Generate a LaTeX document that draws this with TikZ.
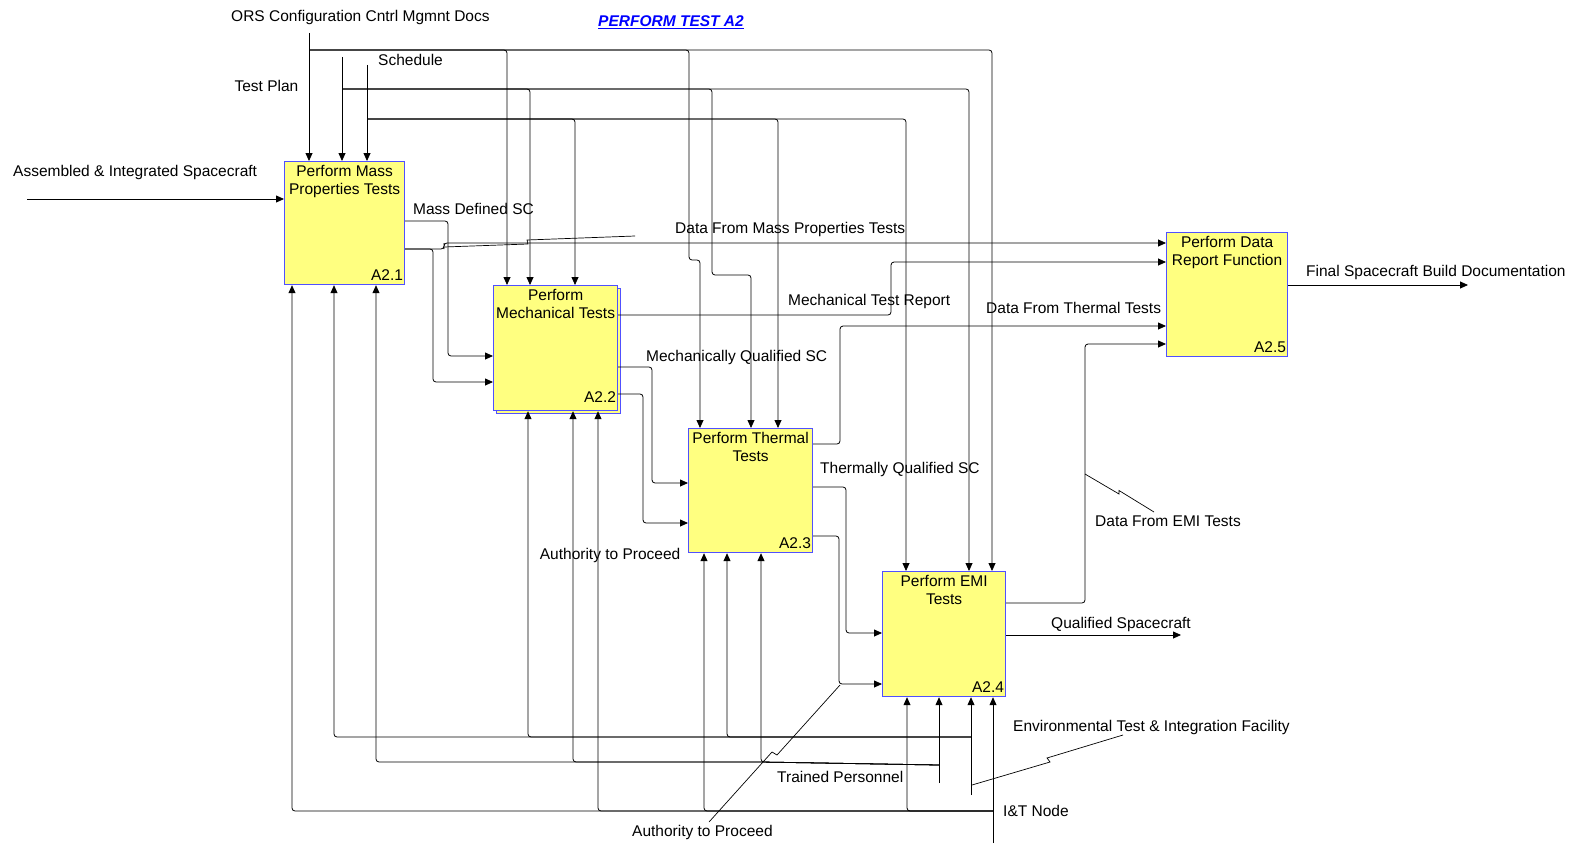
\documentclass[tikz,border=0pt]{standalone}
\usepackage{fontspec}
\setmainfont{Liberation Sans}
\usetikzlibrary{arrows.meta, positioning}
\definecolor{actfill}{RGB}{255,255,128}
\definecolor{actline}{RGB}{80,80,255}
\definecolor{ttlblue}{RGB}{0,0,255}

\begin{document}
\begin{tikzpicture}[x=1pt, y=-1pt, font=\fontsize{15.5}{17.8}\selectfont,
    act node/.style={draw=actline, fill=actfill, line width=1.2pt, anchor=north west, inner sep=0pt},
    act title/.style={anchor=north, align=center, inner sep=4pt},
    act num/.style={anchor=south east, inner xsep=2pt, inner ysep=4.3pt},
    txt node/.style={inner sep=0pt},
    arr/.style={draw=black, line width=0.8pt, rounded corners=3pt, -{Triangle[length=8pt,width=7pt]}},
    lead/.style={draw=black, line width=0.7pt}]
      \useasboundingbox (0,0) rectangle (1581,843);

      % activities
      \node[act node, minimum width=120pt, minimum height=123pt,
        label={[act title]north:{Perform Mass\\Properties Tests}},
        label={[act num]south east:A2.1}] (a21) at (284,161) {};
      \node[act node, minimum width=124pt, minimum height=125pt] (a22s) at (496,288) {};
      \node[act node, minimum width=124pt, minimum height=125pt,
        label={[act title]north:{Perform\\Mechanical Tests}},
        label={[act num, yshift=4pt]south east:A2.2}] (a22) at (493,285) {};
      \node[act node, minimum width=124pt, minimum height=124pt,
        label={[act title]north:{Perform Thermal\\Tests}},
        label={[act num]south east:A2.3}] (a23) at (688,428) {};
      \node[act node, minimum width=123pt, minimum height=125pt,
        label={[act title]north:{Perform EMI\\Tests}},
        label={[act num]south east:A2.4}] (a24) at (882,571) {};
      \node[act node, minimum width=121pt, minimum height=124pt,
        label={[act title]north:{Perform Data\\Report Function}},
        label={[act num]south east:A2.5}] (a25) at (1166,232) {};

      % texts
      \node[txt node, anchor=base, text=ttlblue] (ttl) at (671,27) {\bfseries\itshape\underline{PERFORM TEST A2}};
      \node[txt node, anchor=base west] (orsl) at (231,21.3) {ORS Configuration Cntrl Mgmnt Docs};
      \node[txt node, anchor=base west] (schl) at (378,66) {Schedule};
      \node[txt node, anchor=base east] (tpll) at (298.5,92) {Test Plan};
      \node[txt node, anchor=base west] (aisl) at (13,176) {Assembled \& Integrated Spacecraft};
      \node[txt node, anchor=base west] (mdsl) at (413,214) {Mass Defined SC};
      \node[txt node, anchor=base west] (dmpl) at (675,233) {Data From Mass Properties Tests};
      \node[txt node, anchor=base west] (mtrl) at (788,305) {Mechanical Test Report};
      \node[txt node, anchor=base west] (dttl) at (986,313) {Data From Thermal Tests};
      \node[txt node, anchor=base west] (mqsl) at (646,361) {Mechanically Qualified SC};
      \node[txt node, anchor=base west] (tqsl) at (820,473) {Thermally Qualified SC};
      \node[txt node, anchor=base west] (fsbl) at (1306,276) {Final Spacecraft Build Documentation};
      \node[txt node, anchor=base west] (deml) at (1095,526) {Data From EMI Tests};
      \node[txt node, anchor=base west] (qscl) at (1051,628) {Qualified Spacecraft};
      \node[txt node, anchor=base east] (atpa) at (680.5,559) {Authority to Proceed};
      \node[txt node, anchor=base west] (etifl) at (1013,731.5) {Environmental Test \& Integration Facility};
      \node[txt node, anchor=base east] (trpl) at (903.5,782) {Trained Personnel};
      \node[txt node, anchor=base west] (itnl) at (1003,816.5) {I\&T Node};
      \node[txt node, anchor=base west] (atpb) at (632,836) {Authority to Proceed};

      % controls
      \coordinate (ors) at (309,33);
      \coordinate (orsj) at (309,50);
      \coordinate (tpln) at (342,57);
      \coordinate (tplj) at (342,89);
      \coordinate (sch) at (367,65);
      \coordinate (schj) at (367,119);
      \draw[arr] (ors) -- ([xshift=25pt]a21.north west);
      \draw[arr] (orsj) -| ([xshift=14pt]a22.north west);
      \draw[arr] (orsj) -| (689,260) -| ([xshift=12pt]a23.north west);
      \draw[arr] (orsj) -| ([xshift=110pt]a24.north west);
      \draw[arr] (tpln) -- ([xshift=58pt]a21.north west);
      \draw[arr] (tplj) -| ([xshift=37pt]a22.north west);
      \draw[arr] (tplj) -| (712,275) -| ([xshift=63pt]a23.north west);
      \draw[arr] (tplj) -| ([xshift=87pt]a24.north west);
      \draw[arr] (sch) -- ([xshift=83pt]a21.north west);
      \draw[arr] (schj) -| ([xshift=82pt]a22.north west);
      \draw[arr] (schj) -| ([xshift=90pt]a23.north west);
      \draw[arr] (schj) -| ([xshift=24pt]a24.north west);

      % inputs and outputs
      \coordinate (ais) at (27,199);
      \draw[arr] (ais) -- (a21.west |- ais);
      \draw[arr] ([yshift=-60pt]a21.north east) -| (448,300) |- ([yshift=-71pt]a22.north west);
      \draw[arr] ([yshift=-88pt]a21.north east) -| (444,246) |- ([yshift=-11pt]a25.north west);
      \draw[arr] ([yshift=-88pt]a21.north east) -| (433,300) |- ([yshift=-97pt]a22.north west);
      \draw[arr] ([yshift=-30pt]a22.north east) -| (891,290) |- ([yshift=-30pt]a25.north west);
      \draw[arr] ([yshift=-82pt]a22.north east) -| (652,420) |- ([yshift=-55pt]a23.north west);
      \draw[arr] ([yshift=-109pt]a22.north east) -| (643,450) |- ([yshift=-95pt]a23.north west);
      \draw[arr] ([yshift=-16pt]a23.north east) -| (840,400) |- ([yshift=-94pt]a25.north west);
      \draw[arr] ([yshift=-59pt]a23.north east) -| (846,560) |- ([yshift=-62pt]a24.north west);
      \draw[arr] ([yshift=-108pt]a23.north east) -| (839,600) |- ([yshift=-113pt]a24.north west);
      \draw[arr] ([yshift=-32pt]a24.north east) -| (1085,450) |- ([yshift=-112pt]a25.north west);
      \coordinate (qsc) at (1181,635);
      \draw[arr] (a24.east |- qsc) -- (qsc);
      \coordinate (fsbd) at (1468,285);
      \draw[arr] (a25.east |- fsbd) -- (fsbd);

      % mechanisms
      \coordinate (itn) at (993,843);
      \coordinate (itnj) at (993,811);
      \draw[arr] (itn) -- ([xshift=111pt]a24.south west);
      \draw[arr] (itnj) -| ([xshift=8pt]a21.south west);
      \draw[arr] (itnj) -| ([xshift=105pt]a22.south west);
      \draw[arr] (itnj) -| ([xshift=16pt]a23.south west);
      \draw[arr] (itnj) -| ([xshift=25pt]a24.south west);
      \coordinate (etif) at (971,795);
      \coordinate (etifj) at (971,737);
      \draw[arr] (etif) -- ([xshift=89pt]a24.south west);
      \draw[arr] (etifj) -| ([xshift=50pt]a21.south west);
      \draw[arr] (etifj) -| ([xshift=35pt]a22.south west);
      \draw[arr] (etifj) -| ([xshift=39pt]a23.south west);
      \coordinate (trp) at (939,783);
      \coordinate (trpj) at (939,765);
      \coordinate (trpk) at (761,762);
      \draw[arr] (trp) -- ([xshift=57pt]a24.south west);
      \draw[arr] (trpj) -- (trpk) -| ([xshift=92pt]a21.south west);
      \draw[arr] (trpj) -- (trpk) -| ([xshift=80pt]a22.south west);
      \draw[arr] (trpj) -- (trpk) -- ([xshift=73pt]a23.south west);

      % label leaders
      \draw[lead] (444,247) -- (528,244) -- (527,240) -- (635,236);
      \draw[lead] (1085,474) -- (1119,494) -- (1119,490.5) -- (1154,512);
      \draw[lead] (972,785) -- (1050,762) -- (1047,758) -- (1123,735);
      \draw[lead] (709,822) -- (772,752) -- (777,755) -- (840,685);
    \end{tikzpicture}
\end{document}
